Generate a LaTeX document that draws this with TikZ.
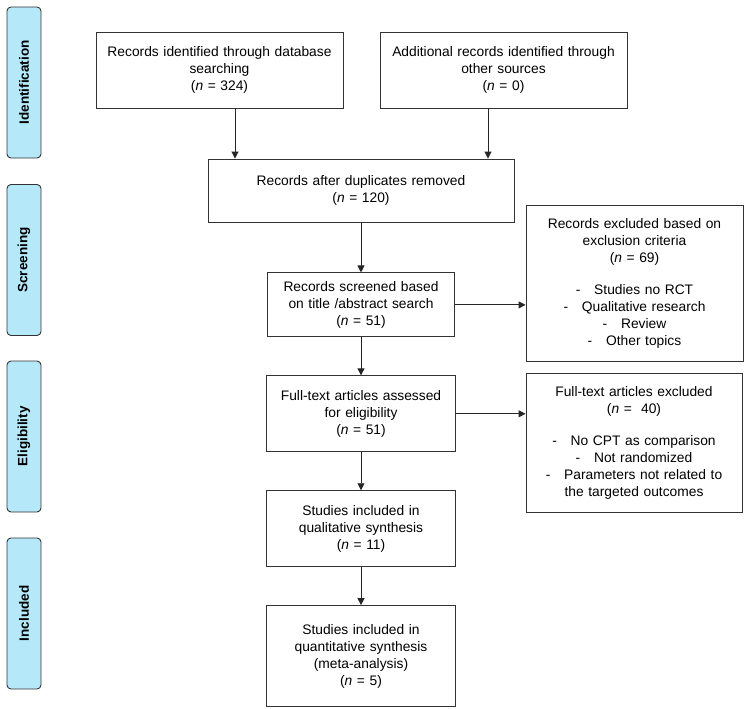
\documentclass[tikz,border=0pt]{standalone}
\usepackage{fontspec}
\setmainfont{Liberation Sans}
\usetikzlibrary{positioning, arrows.meta}
\definecolor{phaseblue}{HTML}{B5E9FA}

\begin{document}
\begin{tikzpicture}[
        x=1pt, y=-1pt,
        node distance=38pt and 38pt,
        box/.style={draw=black!80, line width=0.9pt, fill=white, align=center, inner xsep=4pt, inner ysep=0pt, font=\fontsize{13.8}{17}\selectfont},
        phase/.style={draw=black!80, line width=0.9pt, rounded corners=4pt, fill=phaseblue, rotate=90, minimum width=151pt, minimum height=34pt, inner sep=0pt, font=\fontsize{13.5}{16}\selectfont\bfseries},
        flow/.style={draw=black!85, line width=0.9pt, -{Triangle[length=7pt, width=7pt]}}
    ]
    \useasboundingbox (0,0) rectangle (750,709);

    % Phase labels on the left
    \node[phase] (identification) at (24, 82.5) {Identification};
    \node[phase] (screening) at (24, 260) {Screening};
    \node[phase] (eligibility) at (24, 436.5) {Eligibility};
    \node[phase] (included) at (24, 613.5) {Included};

    % Identification row
    \node[box, text width=239pt, minimum height=76pt] (database) at (219.5, 70) {Records identified through database \\ searching \\ (\textit{n} = 324)};
    \node[box, text width=239pt, minimum height=76pt] (other) at (503.5, 70) {Additional records identified through \\ other sources \\ (\textit{n} = 0)};

    % Central column
    \node[box, text width=298pt, minimum height=63pt] (duplicates) at (361, 190.5) {Records after duplicates removed \\ (\textit{n} = 120)};
    \node[box, text width=179pt, minimum height=64pt] (screened) [below=50pt of duplicates] {Records screened based \\ on title /abstract search \\ (\textit{n} = 51)};
    \node[box, text width=181pt, minimum height=76pt] (fulltext) [below=of screened] {Full-text articles assessed \\ for eligibility \\ (\textit{n} = 51)};
    \node[box, text width=181pt, minimum height=76pt] (qualitative) [below=of fulltext] {Studies included in \\ qualitative synthesis \\ (\textit{n} = 11)};
    \node[box, text width=181pt, minimum height=101pt] (quantitative) [below=of qualitative] {Studies included in \\ quantitative synthesis \\ (meta-analysis) \\ (\textit{n} = 5)};

    % Exclusion boxes on the right
    \node[box, text width=209pt, minimum height=156pt] (excluded) at (634.5, 283) {Records excluded based on \\ exclusion criteria \\ (\textit{n} = 69) \\[15pt] -\hspace{1em}Studies no RCT \\ -\hspace{1em}Qualitative research \\ -\hspace{1em}Review \\ -\hspace{1em}Other topics};
    \node[box, text width=208pt, minimum height=139pt] (ftexcluded) at (634, 442.5) {Full-text articles excluded \\ (\textit{n} =\ \ 40) \\[15pt] -\hspace{1em}No CPT as comparison \\ -\hspace{1em}Not randomized \\ -\hspace{1em}Parameters not related to \\ the targeted outcomes};

    % Edges into duplicates box
    \draw[flow] ([xshift=15.5pt]database.south) -- ([xshift=15.5pt]database.south |- duplicates.north);
    \draw[flow] ([xshift=-15.5pt]other.south) -- ([xshift=-15.5pt]other.south |- duplicates.north);

    % Edges down the central column
    \draw[flow] (duplicates) -- (screened);
    \draw[flow] (screened) -- (fulltext);
    \draw[flow] (fulltext) -- (qualitative);
    \draw[flow] (qualitative) -- (quantitative);

    % Edges to exclusion boxes
    \draw[flow] (screened.east) -- (screened.east -| excluded.west);
    \draw[flow] (fulltext.east) -- (fulltext.east -| ftexcluded.west);

\end{tikzpicture}
\end{document}
